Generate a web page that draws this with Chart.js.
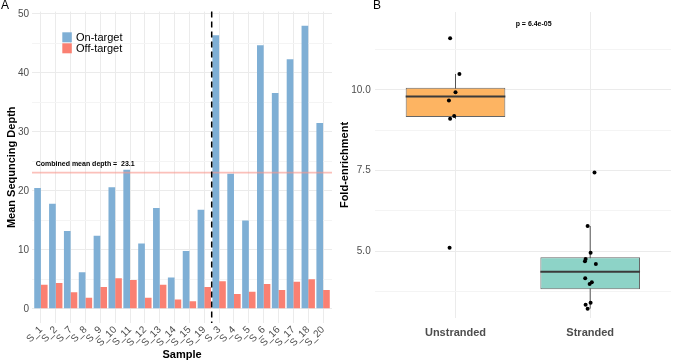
<!DOCTYPE html>
<html><head><meta charset="utf-8">
<script src="https://cdn.jsdelivr.net/npm/chart.js@4.4.1/dist/chart.umd.min.js"></script>
<style>
html,body{margin:0;padding:0;background:#fff;width:675px;height:362px;overflow:hidden}
#a{position:absolute;left:0;top:0}
#b{position:absolute;left:335px;top:0}
</style></head><body>
<canvas id="a" width="335" height="362"></canvas>
<canvas id="b" width="340" height="362"></canvas>
<script>
// ---------- Panel A data ----------
const samples = ['S_1','S_2','S_7','S_8','S_9','S_10','S_11','S_12','S_13','S_14','S_15','S_19','S_3','S_4','S_5','S_6','S_16','S_17','S_18','S_20'];
const onTarget = [20.5,17.8,13.2,6.2,12.4,20.6,23.6,11.1,17.1,5.3,9.8,16.8,46.4,22.9,15.0,44.7,36.6,42.3,48.0,31.5];
const offTarget = [4.1,4.4,2.8,1.9,3.7,5.2,4.9,1.9,4.1,1.6,1.3,3.7,4.7,2.5,2.9,4.2,3.2,4.6,5.0,3.2];
const seriesNames = ['On-target','Off-target'];
const combinedMean = 23.1;
const separatorAt = 11.5; // between S_19 and S_3
const depthTicks = [0,5,10,15,20,25,30,35,40,45,50];
const depthLabels = [0,10,20,30,40,50];

// ---------- Panel B data ----------
const groups = ['Unstranded','Stranded'];
const unstrandedValues = [11.6,10.49,9.92,9.67,9.19,9.10,5.11];
const unstrandedJitter = [-0.040,0.029,0.0,-0.049,-0.010,-0.040,-0.044];
const strandedValues = [7.44,5.78,4.95,4.76,4.69,4.60,4.16,4.04,3.98,3.40,3.34,3.22];
const strandedJitter = [0.032,-0.019,0.003,-0.034,-0.039,0.042,-0.037,0.012,-0.004,0.003,-0.034,-0.019];
const boxQ1 = [9.16,3.82];
const boxMedian = [9.79,4.36];
const boxQ3 = [10.06,4.81];
const whiskerLow = [9.10,3.22];
const whiskerHigh = [10.49,5.78];
const pLabel = 'p = 6.4e-05';
const pLabelPos = {x:1.58, y:12.04};
const foldTicks = [3.75,5,6.25,7.5,8.75,10,11.25];
const foldLabels = [5,7.5,10];

const FONT = "'Liberation Sans', Arial, Helvetica, sans-serif";
Chart.defaults.font.family = FONT;
Chart.defaults.color = '#4D4D4D';

const BLUE = '#7FAFD5', RED = '#FA8072';

const leftDecor = {
  id:'leftDecor',
  afterDatasetsDraw(chart){
    const {ctx, chartArea:a, scales:{x,y}} = chart;
    ctx.save();
    const ym = y.getPixelForValue(combinedMean);
    ctx.strokeStyle = 'rgba(248,150,140,0.6)';
    ctx.lineWidth = 1.6;
    ctx.beginPath(); ctx.moveTo(a.left, ym); ctx.lineTo(a.right, ym); ctx.stroke();
    const xs = x.getPixelForValue(separatorAt);
    ctx.strokeStyle = '#000'; ctx.lineWidth = 1.5; ctx.setLineDash([6,4]);
    ctx.beginPath(); ctx.moveTo(xs, a.top); ctx.lineTo(xs, a.bottom); ctx.stroke();
    ctx.setLineDash([]);
    ctx.fillStyle = '#000';
    ctx.font = 'bold 7px ' + FONT;
    ctx.textAlign = 'left'; ctx.textBaseline = 'middle';
    ctx.fillText('Combined mean depth =  ' + combinedMean.toFixed(1), x.getPixelForValue(-0.35), y.getPixelForValue(24.5));
    const cols = [BLUE, RED];
    ctx.font = '11px ' + FONT;
    seriesNames.forEach((n,i)=>{
      ctx.fillStyle = cols[i];
      ctx.fillRect(62.3, 32.3 + i*11, 9.5, 10);
      ctx.fillStyle = '#000';
      ctx.fillText(n, 76, 37.6 + i*11);
    });
    ctx.font = '12px ' + FONT;
    ctx.textBaseline = 'alphabetic';
    ctx.fillText('A', 1, 9);
    ctx.restore();
  }
};

new Chart(document.getElementById('a'), {
  type:'bar',
  data:{datasets:[
    {label:seriesNames[0], data:onTarget.map((v,i)=>({x:i,y:v})), backgroundColor:BLUE, borderWidth:0, categoryPercentage:0.9, barPercentage:1},
    {label:seriesNames[1], data:offTarget.map((v,i)=>({x:i,y:v})), backgroundColor:RED, borderWidth:0, categoryPercentage:0.9, barPercentage:1}
  ]},
  options:{
    responsive:false, animation:false,
    layout:{padding:{top:11.6,right:3,left:0,bottom:0}},
    plugins:{legend:{display:false}, tooltip:{enabled:false}},
    scales:{
      x:{type:'linear', min:-0.6, max:19.6, offset:false,
        afterBuildTicks:s=>{s.ticks = samples.map((_,i)=>({value:i}));},
        afterFit:s=>{s.height = 39;},
        ticks:{autoSkip:false, minRotation:45, maxRotation:45, padding:1, font:{size:10}, color:'#4D4D4D', callback:v=>samples[v]},
        grid:{color:'#EBEBEB', lineWidth:1, drawTicks:false, offset:false},
        border:{display:false},
        title:{display:true, text:'Sample', color:'#000', font:{size:11, weight:'bold'}, padding:{top:0,bottom:0}}
      },
      y:{min:-2.4, max:50.4,
        afterBuildTicks:s=>{s.ticks = depthTicks.map(v=>({value:v}));},
        afterFit:s=>{s.width = 32;},
        ticks:{padding:3, font:{size:10}, color:'#4D4D4D', callback:v=>depthLabels.includes(v)?String(v):''},
        grid:{color:c=>(c.tick && depthLabels.includes(c.tick.value))?'#EBEBEB':'#F4F4F4', lineWidth:1, drawTicks:false},
        border:{display:false},
        title:{display:true, text:'Mean Sequncing Depth', color:'#000', font:{size:11, weight:'bold'}, padding:{top:5,bottom:0}}
      }
    }
  },
  plugins:[leftDecor]
});

const boxDecor = {
  id:'boxDecor',
  beforeDatasetsDraw(chart){
    const {ctx, scales:{x,y}} = chart;
    ctx.save();
    ctx.strokeStyle = '#555'; ctx.lineWidth = 1;
    groups.forEach((g,i)=>{
      const px = x.getPixelForValue(i+1);
      ctx.beginPath();
      ctx.moveTo(px, y.getPixelForValue(whiskerLow[i]));
      ctx.lineTo(px, y.getPixelForValue(whiskerHigh[i]));
      ctx.stroke();
    });
    ctx.restore();
  },
  afterDatasetDraw(chart, args){
    if (args.index !== 0) return;
    const {ctx, scales:{y}} = chart;
    const meta = chart.getDatasetMeta(0);
    ctx.save();
    ctx.strokeStyle = '#3a3a3a'; ctx.lineWidth = 2;
    meta.data.forEach((bar,i)=>{
      const py = y.getPixelForValue(boxMedian[i]);
      ctx.beginPath();
      ctx.moveTo(bar.x - bar.width/2, py);
      ctx.lineTo(bar.x + bar.width/2, py);
      ctx.stroke();
    });
    ctx.restore();
  },
  afterDraw(chart){
    const {ctx, scales:{x,y}} = chart;
    ctx.save();
    ctx.fillStyle = '#000';
    ctx.font = 'bold 7px ' + FONT;
    ctx.textAlign = 'center'; ctx.textBaseline = 'middle';
    ctx.fillText(pLabel, x.getPixelForValue(pLabelPos.x), y.getPixelForValue(pLabelPos.y));
    ctx.font = '12px ' + FONT;
    ctx.textAlign = 'left'; ctx.textBaseline = 'alphabetic';
    ctx.fillText('B', 38, 9);
    ctx.restore();
  }
};

const points = unstrandedValues.map((v,i)=>({x:1+unstrandedJitter[i], y:v}))
  .concat(strandedValues.map((v,i)=>({x:2+strandedJitter[i], y:v})));

new Chart(document.getElementById('b'), {
  type:'bar',
  data:{datasets:[
    {type:'bar', data:groups.map((g,i)=>({x:i+1, y:[boxQ1[i], boxQ3[i]]})),
      backgroundColor:['#FDB462','#8DD3C7'], borderColor:'rgba(75,75,75,0.85)', borderWidth:1, borderSkipped:false,
      barPercentage:0.74, categoryPercentage:1, order:2},
    {type:'scatter', data:points, pointRadius:2, pointBackgroundColor:'#000', pointBorderWidth:0, order:0}
  ]},
  options:{
    responsive:false, animation:false,
    layout:{padding:{top:12,right:0,left:0,bottom:0}},
    plugins:{legend:{display:false}, tooltip:{enabled:false}},
    scales:{
      x:{type:'linear', min:0.4, max:2.6, offset:false,
        afterBuildTicks:s=>{s.ticks = groups.map((_,i)=>({value:i+1}));},
        afterFit:s=>{s.height = 44;},
        ticks:{autoSkip:false, maxRotation:0, padding:8, font:{size:11, weight:'bold'}, color:'#4D4D4D', callback:v=>groups[v-1]},
        grid:{color:'#EBEBEB', lineWidth:1, drawTicks:false, offset:false},
        border:{display:false}
      },
      y:{min:2.93, max:12.41,
        afterBuildTicks:s=>{s.ticks = foldTicks.map(v=>({value:v}));},
        afterFit:s=>{s.width = 39.7;},
        ticks:{padding:4, font:{size:10}, color:'#4D4D4D', callback:v=>foldLabels.includes(v)?v.toFixed(1):''},
        grid:{color:c=>(c.tick && foldLabels.includes(c.tick.value))?'#EBEBEB':'#F4F4F4', lineWidth:1, drawTicks:false},
        border:{display:false},
        title:{display:true, text:'Fold-enrichment', color:'#000', font:{size:11, weight:'bold'}, padding:{top:3,bottom:0}}
      }
    }
  },
  plugins:[boxDecor]
});
</script>
</body></html>
